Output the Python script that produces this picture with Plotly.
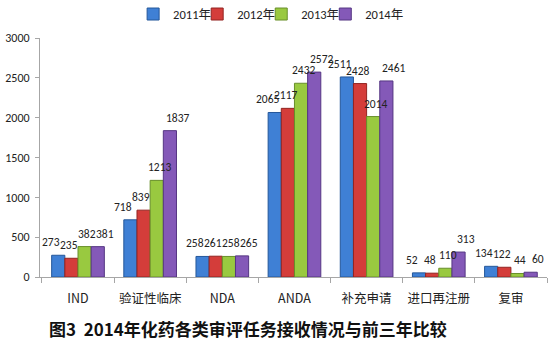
import plotly.graph_objects as go

categories = ["IND", "验证性临床", "NDA", "ANDA", "补充申请", "进口再注册", "复审"]
years = ["2011年", "2012年", "2013年", "2014年"]
v2011 = [273, 718, 258, 2065, 2511, 52, 134]
v2012 = [235, 839, 261, 2117, 2428, 48, 122]
v2013 = [382, 1213, 258, 2432, 2014, 110, 44]
v2014 = [381, 1837, 265, 2572, 2461, 313, 60]
y_ticks = [0, 500, 1000, 1500, 2000, 2500, 3000]
title_text = "图3  2014年化药各类审评任务接收情况与前三年比较"

series = [v2011, v2012, v2013, v2014]
fills = ["#3F80D5", "#D43D3A", "#99C940", "#8459B8"]
edges = ["#24579A", "#932421", "#688F2A", "#553683"]
# horizontal nudge (px) of each series' value labels, fanned out so they don't collide
label_shift = [-27, -9, 9, 27]
# left edge (fraction of page width) of each year's legend box
legend_x = [0.239, 0.354, 0.469, 0.584]

FONT = "Calibri, Lato, 'Noto Sans CJK SC', sans-serif"
CJK = "'Noto Sans CJK SC', Lato, sans-serif"

fig = go.Figure()
legend_ids = ["legend", "legend2", "legend3", "legend4"]
for name, vals, fc, ec, lid in zip(years, series, fills, edges, legend_ids):
    fig.add_trace(go.Bar(
        name=name,
        x=categories,
        y=vals,
        legend=lid,
        marker=dict(color=fc, line=dict(color=ec, width=1)),
        hovertemplate="%{x}: %{y}<extra>" + name + "</extra>",
    ))

# value labels above each bar
for vals, dx in zip(series, label_shift):
    for cat, v in zip(categories, vals):
        fig.add_annotation(
            x=cat, y=v, text=str(v), showarrow=False,
            xanchor="center", yanchor="bottom",
            xshift=dx, yshift=4,
            font=dict(family=FONT, size=11.5, color="#222222"),
        )

fig.add_annotation(
    text="<b>" + title_text + "</b>",
    xref="paper", yref="paper",
    x=0.41, y=-0.215, xanchor="center", yanchor="middle",
    showarrow=False,
    font=dict(family=CJK, size=17, color="#111111"),
)

legend_style = dict(
    orientation="h",
    xref="container", yref="container",
    y=0.958, xanchor="left", yanchor="middle",
    font=dict(family=FONT, size=12.5, color="#222222"),
    itemwidth=30,
    bgcolor="rgba(0,0,0,0)",
)

fig.update_layout(
    width=557, height=343,
    margin=dict(l=40, r=10, t=38, b=66, autoexpand=False),
    paper_bgcolor="white", plot_bgcolor="white",
    barmode="group", bargap=0.27, bargroupgap=0.0,
    font=dict(family=FONT, size=12.5, color="#222222"),
    showlegend=True,
    legend=dict(x=legend_x[0], **legend_style),
    legend2=dict(x=legend_x[1], **legend_style),
    legend3=dict(x=legend_x[2], **legend_style),
    legend4=dict(x=legend_x[3], **legend_style),
    xaxis=dict(
        showline=True, linecolor="#A6A6A6", linewidth=1,
        ticks="outside", ticklen=5, tickcolor="#A6A6A6", tickson="boundaries",
        tickfont=dict(family=CJK, size=12.5, color="#222222"),
        tickangle=0, ticklabelstandoff=10, automargin=False,
        showgrid=False, fixedrange=True,
    ),
    yaxis=dict(
        range=[0, 3000], tickvals=y_ticks,
        showline=True, linecolor="#A6A6A6", linewidth=1,
        ticks="outside", ticklen=4, tickcolor="#A6A6A6",
        tickfont=dict(family=FONT, size=12, color="#222222"),
        ticklabelstandoff=3, automargin=False,
        showgrid=False, zeroline=False, fixedrange=True,
    ),
)

fig.write_html("out.html")
